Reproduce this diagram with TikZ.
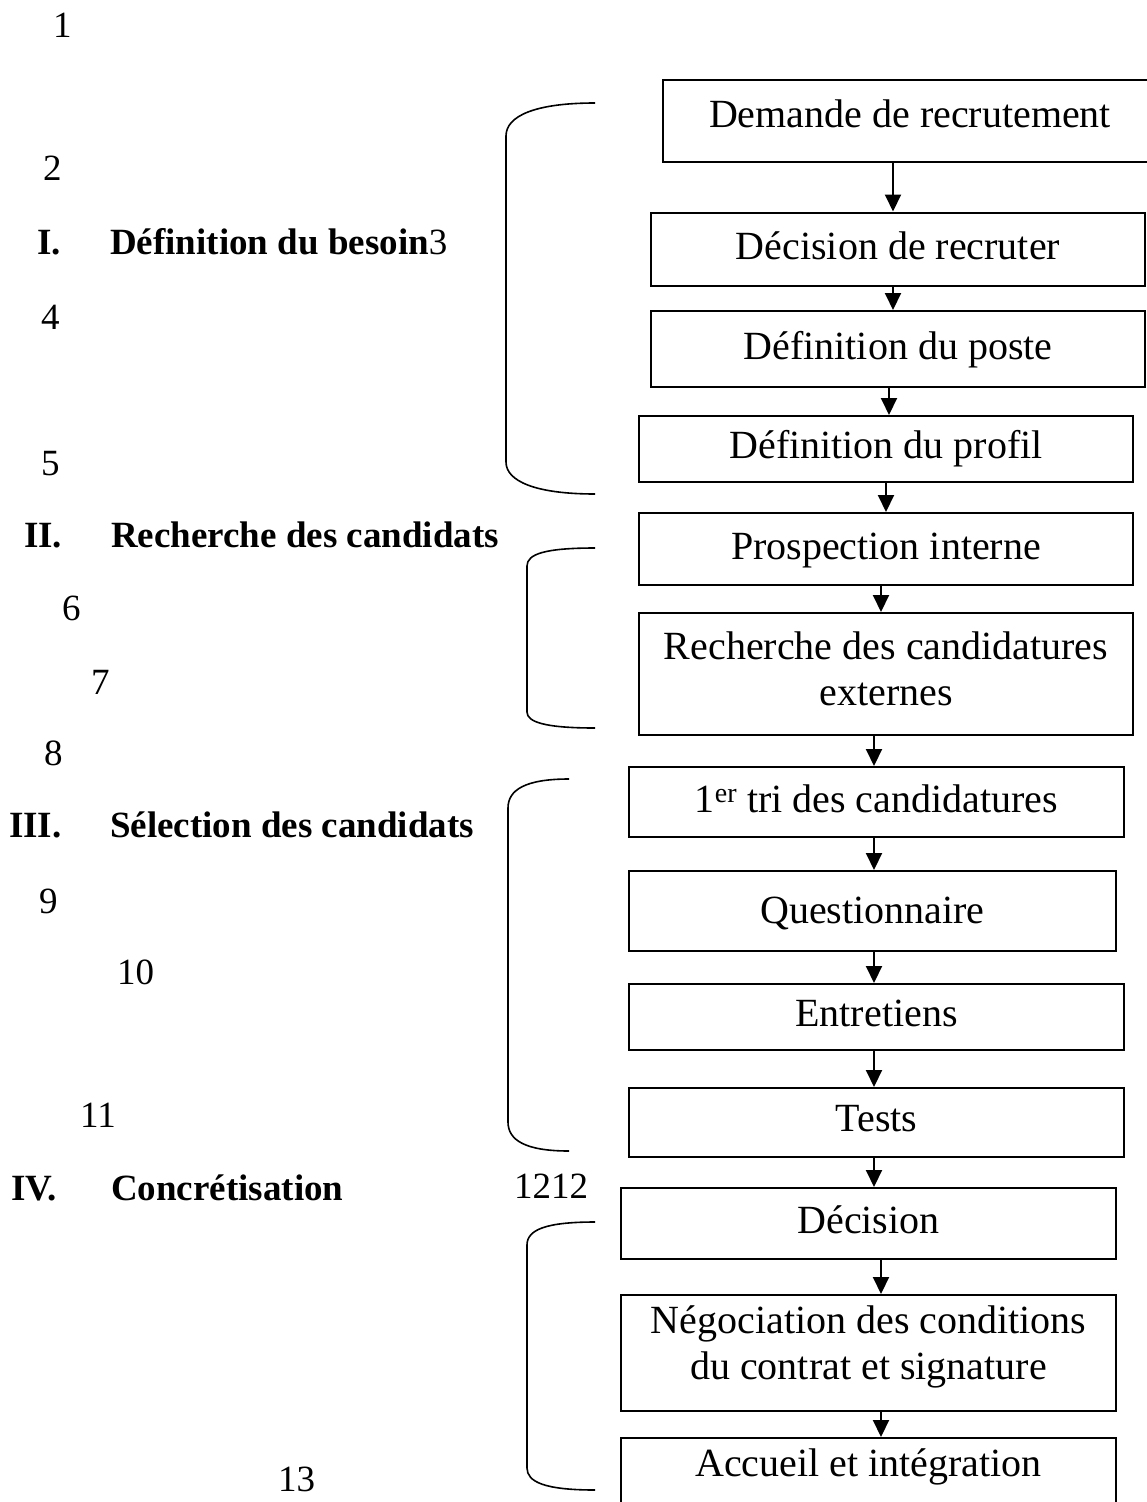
\documentclass[tikz,border=0pt]{standalone}
\usepackage{fontspec}
\setmainfont{Liberation Serif}
\usetikzlibrary{arrows.meta}

% helpers for the step boxes
\newcommand{\boxfont}{\fontsize{40}{46}\selectfont}
\newcommand{\leftfont}{\fontsize{37}{44}\selectfont}
\newcommand{\tallstrut}{\rule{0pt}{28pt}}

\begin{document}
\begin{tikzpicture}[
  x=1pt, y=-1pt,
  stepbox/.style={draw, line width=2pt, inner sep=0pt, font=\boxfont,
    text height=28pt, text depth=10pt},
  twobox/.style={draw, line width=2pt, inner sep=0pt, font=\boxfont, align=center},
  flow/.style={line width=2pt, -{Triangle[width=16pt,length=17pt]}},
  brace/.style={line width=1.6pt},
  lbl/.style={anchor=base west, inner sep=0pt, font=\leftfont},
  head/.style={anchor=base west, inner sep=0pt, font=\leftfont\bfseries},
]
\useasboundingbox (0,0) rectangle (1146,1502);

% ---- steps of the recruitment process ----
\node[stepbox, minimum width=494pt, minimum height=82pt, text depth=16pt] (b1) at (910,121) {Demande de recrutement};
\node[stepbox, minimum width=494pt, minimum height=73pt, text depth=8pt] (b2) at (898,249) {Décision de recruter};
\node[stepbox, minimum width=494pt, minimum height=76pt, text depth=8pt] (b3) at (898,349) {Définition du poste};
\node[stepbox, minimum width=494pt, minimum height=66pt] (b4) at (886,449) {Définition du profil};
\node[stepbox, minimum width=494pt, minimum height=72pt, text depth=8pt] (b5) at (886,549) {Prospection interne};
\node[twobox, minimum width=494pt, minimum height=122pt] (b6) at (886,674)
  {\tallstrut Recherche des candidatures\\externes\rule[-12pt]{0pt}{0pt}};
\node[stepbox, minimum width=495pt, minimum height=70pt, text depth=8pt] (b7) at (876.5,802) {1\textsuperscript{er} tri des candidatures};
\node[stepbox, minimum width=487pt, minimum height=80pt, text depth=4pt] (b8) at (872.5,911) {Questionnaire};
\node[stepbox, minimum width=495pt, minimum height=66pt] (b9) at (876.5,1017) {Entretiens};
\node[stepbox, minimum width=495pt, minimum height=69pt] (b10) at (876.5,1122.5) {Tests};
\node[stepbox, minimum width=495pt, minimum height=71pt, text depth=8pt] (b11) at (868.5,1223.5) {Décision};
\node[twobox, minimum width=495pt, minimum height=116pt] (b12) at (868.5,1353)
  {\tallstrut Négociation des conditions\\du contrat et signature\rule[-21pt]{0pt}{0pt}};
\node[stepbox, minimum width=495pt, minimum height=72pt, text depth=24pt] (b13) at (868.5,1474) {Accueil et intégration};

% ---- connectors ----
\draw[flow] (b1.south -| 893,0) -- (b2.north -| 893,0);
\draw[flow] (b2.south -| 893,0) -- (b3.north -| 893,0);
\draw[flow] (b3.south -| 889,0) -- (b4.north -| 889,0);
\draw[flow] (b4.south -| 886,0) -- (b5.north -| 886,0);
\draw[flow] (b5.south -| 881,0) -- (b6.north -| 881,0);
\draw[flow] (b6.south -| 874,0) -- (b7.north -| 874,0);
\draw[flow] (b7.south -| 874,0) -- (b8.north -| 874,0);
\draw[flow] (b8.south -| 874,0) -- (b9.north -| 874,0);
\draw[flow] (b9.south -| 874,0) -- (b10.north -| 874,0);
\draw[flow] (b10.south -| 874,0) -- (b11.north -| 874,0);
\draw[flow] (b11.south -| 881,0) -- (b12.north -| 881,0);
\draw[flow] (b12.south -| 881,0) -- (b13.north -| 881,0);

% ---- brackets grouping the phases ----
\draw[brace] (595,103) .. controls (535,103) and (506,116) .. (506,136)
  -- (506,462) .. controls (506,481) and (535,494) .. (595,494);
\draw[brace] (595,548) .. controls (545,548) and (527,554) .. (527,566)
  -- (527,712) .. controls (527,722) and (545,728) .. (595,728);
\draw[brace] (569,779) .. controls (525,779) and (508,790) .. (508,808)
  -- (508,1122) .. controls (508,1140) and (525,1151) .. (569,1151);
\draw[brace] (595,1222) .. controls (545,1222) and (527,1230) .. (527,1245)
  -- (527,1468) .. controls (527,1482) and (545,1490) .. (595,1490);

% ---- phase headings ----
\node[head] (h1n) at (37,254) {I.};
\node[head] (h1) at (110,254) {Définition du besoin\mdseries 3};
\node[head] (h2n) at (24,547) {II.};
\node[head] (h2) at (111,547) {Recherche des candidats};
\node[head] (h3n) at (9,837) {III.};
\node[head] (h3) at (110,837) {Sélection des candidats};
\node[head] (h4n) at (11,1200) {IV.};
\node[head] (h4) at (111,1200) {Concrétisation};

% ---- line numbers ----
\node[lbl] (n1) at (53,37.5) {1};
\node[lbl] (n2) at (43,180) {2};
\node[lbl] (n4) at (41,329) {4};
\node[lbl] (n5) at (41,475) {5};
\node[lbl] (n6) at (62,620) {6};
\node[lbl] (n7) at (91,694) {7};
\node[lbl] (n8) at (44,765) {8};
\node[lbl] (n9) at (39,913) {9};
\node[lbl] (n10) at (117,984) {10};
\node[lbl] (n11) at (80,1127) {11};
\node[lbl] (n12) at (514,1198) {1212};
\node[lbl] (n13) at (278,1491) {13};
\end{tikzpicture}
\end{document}
